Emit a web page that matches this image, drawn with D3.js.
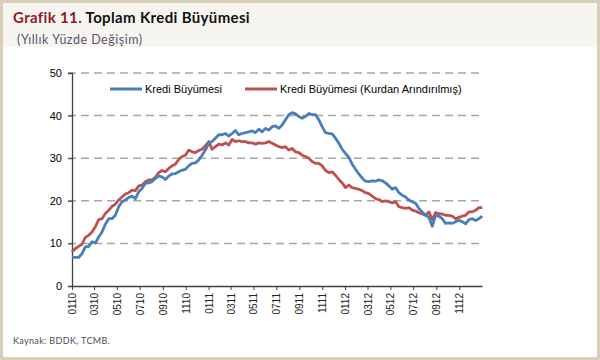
<!DOCTYPE html>
<html><head><meta charset="utf-8">
<script src="https://cdn.jsdelivr.net/npm/d3@7"></script>
<style>body{margin:0;background:#fff}</style>
</head><body><svg id="c" width="600" height="360"></svg>
<script>
const seriesNames = ["Kredi Büyümesi", "Kredi Büyümesi (Kurdan Arındırılmış)"];
const seriesColors = ["#4a7ebb", "#c0504d"];
const krediBuyumesi = [6.7,6.7,6.7,7.6,9.2,9.3,10.4,10.1,11.5,12.7,14.5,15.8,15.8,16.6,18.6,19.8,20.2,20.8,21.1,20.5,
22.1,22.9,24.1,24.2,24.5,25.3,25.8,25.6,25.0,25.8,26.3,26.4,26.8,27.2,27.4,28.2,28.8,28.9,29.6,30.7,
31.9,33.5,33.9,34.7,35.5,35.5,35.8,35.2,35.8,36.5,35.5,35.8,36.0,36.2,36.4,36.0,36.8,36.2,37.0,36.6,
37.4,37.6,37.0,37.8,39.0,40.2,40.7,40.4,39.8,39.4,39.8,40.5,40.2,40.2,39.0,37.4,36.0,35.8,35.7,34.7,
33.5,32.1,31.1,30.2,28.6,27.4,26.3,25.3,24.6,24.5,24.7,24.6,24.9,24.7,24.2,23.5,22.7,23.1,21.9,21.3,
20.9,20.2,19.8,19.4,18.2,17.4,16.6,16.1,14.0,16.6,16.4,15.8,14.7,14.8,14.7,15.1,15.4,15.1,14.6,15.6,
15.8,15.4,15.8,16.4];
const kurdanArindirilmis = [8.0,8.8,9.3,9.8,11.4,11.9,12.7,13.9,15.6,15.8,17.0,17.8,18.7,19.2,20.2,20.9,21.6,21.9,22.5,22.4,
23.5,23.7,24.5,24.9,24.9,25.5,26.6,27.1,26.8,27.6,28.2,28.6,29.7,30.4,30.7,31.9,31.5,31.3,31.8,32.1,
32.9,33.9,32.1,32.7,33.3,33.1,33.6,33.1,34.4,33.9,34.1,33.9,33.9,33.6,33.6,33.3,33.6,33.5,33.6,33.9,
33.5,33.1,32.7,32.5,32.7,31.9,32.3,31.5,31.3,30.7,30.4,30.0,29.2,28.8,28.8,28.2,27.1,26.6,26.8,26.0,
25.0,24.2,23.1,23.7,23.1,22.9,22.7,22.4,21.9,21.7,21.1,20.5,20.3,19.8,20.0,19.8,19.5,19.8,18.6,18.4,
18.2,18.4,17.8,17.6,17.2,16.9,16.6,17.4,15.6,17.2,17.0,16.9,16.6,16.6,16.4,15.8,16.1,16.4,16.6,17.4,
17.4,17.8,18.4,18.4];
const yTicks = [0, 10, 20, 30, 40, 50];
const xTickLabels = ["0110","0310","0510","0710","0910","1110","0111","0311","0511","0711","0911","1111",
"0112","0312","0512","0712","0912","1112"];
const startDate = new Date(2010, 0, 1);
const endDate = new Date(2013, 0, 1);
const sampleStepHours = 214;

const svg = d3.select("#c");
// frame
svg.append("rect").attr("x",1.5).attr("y",1.5).attr("width",597).attr("height",357)
  .attr("fill","#fff").attr("stroke","#d8cfb8").attr("stroke-width",3);
svg.append("rect").attr("x",3).attr("y",3).attr("width",594).attr("height",44).attr("fill","#f6f5f0");

const title = svg.append("text").attr("x",13).attr("y",23)
  .attr("font-family","Lato, sans-serif").attr("font-size",15).attr("font-weight","bold")
  .attr("letter-spacing",0.35);
title.append("tspan").attr("fill","#8c1c2c").text("Grafik 11. ");
title.append("tspan").attr("fill","#111").text("Toplam Kredi Büyümesi");
svg.append("text").attr("x",17).attr("y",44).attr("font-family","Lato, sans-serif")
  .attr("font-size",12.5).attr("letter-spacing",0.5).attr("fill","#5b5470").text("(Yıllık Yüzde Değişim)");
svg.append("text").attr("x",13).attr("y",344).attr("font-family","Lato, sans-serif")
  .attr("font-size",9).attr("letter-spacing",0.35).attr("fill","#4a4a5a").text("Kaynak: BDDK, TCMB.");

const x = d3.scaleTime().domain([startDate, endDate]).range([72, 482]);
const y = d3.scaleLinear().domain([0, 50]).range([286, 73]);

const dates = krediBuyumesi.map((_, i) => d3.timeHour.offset(startDate, i * sampleStepHours));

// grid
svg.append("g").selectAll("line").data(yTicks.filter(d => d > 0)).join("line")
  .attr("x1",68).attr("x2",482).attr("y1",d=>y(d)).attr("y2",d=>y(d))
  .attr("stroke","#a6a6a6").attr("stroke-width",1.5).attr("stroke-dasharray","8,5");

const font = "Liberation Sans, Arial, sans-serif";
// y axis
const yAxis = svg.append("g").attr("transform","translate(72,0)")
  .call(d3.axisLeft(y).tickValues(yTicks).tickSize(4).tickPadding(6));
yAxis.select(".domain").attr("stroke","#404040").attr("stroke-width",1.3);
yAxis.selectAll(".tick line").attr("stroke","#404040");
yAxis.selectAll("text").attr("font-family",font).attr("font-size",11).attr("fill","#000");

// x axis
const parse = d3.timeParse("%m%y");
const tickDates = xTickLabels.map(parse);
const xAxis = svg.append("g").attr("transform","translate(0,286)")
  .call(d3.axisBottom(x).tickValues(tickDates).tickFormat(d3.timeFormat("%m%y")).tickSize(4).tickSizeOuter(0));
xAxis.select(".domain").attr("stroke","#404040").attr("stroke-width",1.3);
xAxis.selectAll(".tick line").attr("stroke","#404040");
xAxis.selectAll("text").attr("font-family",font).attr("font-size",10).attr("fill","#222")
  .attr("transform","rotate(-90)").attr("text-anchor","end").attr("x",-7).attr("y",0).attr("dy","0.35em");

// lines
const line = d3.line().x((d,i)=>x(dates[i])).y(d=>y(d));
[kurdanArindirilmis, krediBuyumesi].forEach((s, j) => {
  svg.append("path").datum(s).attr("d", line).attr("fill","none")
    .attr("stroke", seriesColors[1-j]).attr("stroke-width",2.8).attr("stroke-linejoin","round");
});

// legend
const legendX = [110, 245];
seriesNames.forEach((n, i) => {
  svg.append("line").attr("x1",legendX[i]).attr("x2",legendX[i]+32).attr("y1",89).attr("y2",89)
    .attr("stroke",seriesColors[i]).attr("stroke-width",3);
  svg.append("text").attr("x",legendX[i]+35).attr("y",93).attr("font-family",font)
    .attr("font-size",11).attr("fill","#000").text(n);
});
</script></body></html>
